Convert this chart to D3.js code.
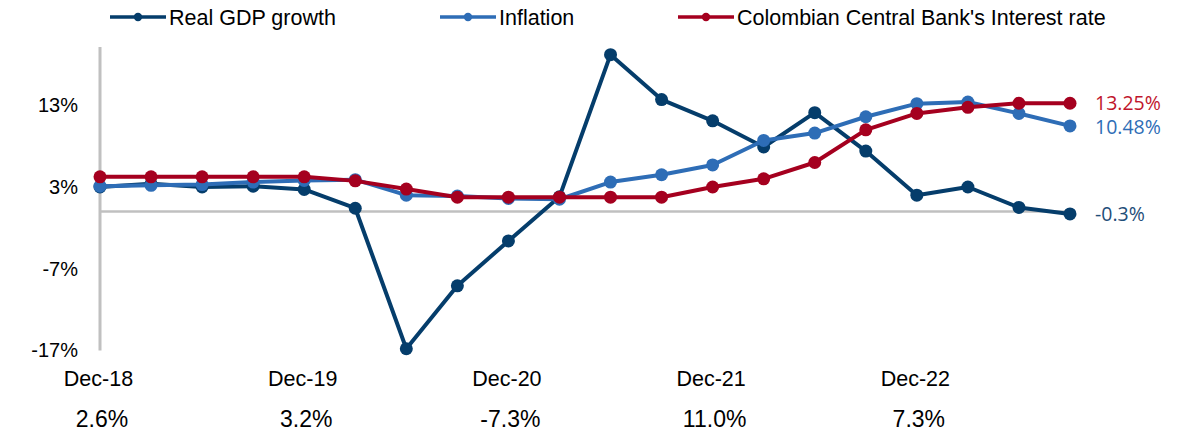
<!DOCTYPE html>
<html><head><meta charset="utf-8">
<script src="https://cdn.jsdelivr.net/npm/d3@7"></script>
<style>body{margin:0;background:#fff}svg{display:block}</style>
</head><body><svg id="c" width="1178" height="431"></svg>
<script>
const periods = ["Dec-18","Mar-19","Jun-19","Sep-19","Dec-19","Mar-20","Jun-20","Sep-20","Dec-20","Mar-21","Jun-21","Sep-21","Dec-21","Mar-22","Jun-22","Sep-22","Dec-22","Mar-23","Jun-23","Sep-23"];
const gdp = [3.0,3.4,3.0,3.1,2.7,0.4,-16.8,-9.1,-3.6,1.8,19.2,13.7,11.1,7.9,12.1,7.4,2.0,3.0,0.5,-0.3];
const inflation = [3.1,3.2,3.3,3.6,3.8,3.9,2.0,1.9,1.6,1.5,3.6,4.5,5.7,8.7,9.6,11.6,13.2,13.4,12.0,10.48];
const rate = [4.25,4.25,4.25,4.25,4.25,3.75,2.75,1.75,1.75,1.75,1.75,1.75,3.0,4.0,6.0,10.0,12.0,12.75,13.25,13.25];
const yTicks = [13,3,-7,-17];
const xTickLabels = ["Dec-18","Dec-19","Dec-20","Dec-21","Dec-22"];
const annualGdp = ["2.6%","3.2%","-7.3%","11.0%","7.3%"];
const seriesNames = ["Real GDP growth","Inflation","Colombian Central Bank's Interest rate"];
const endLabels = ["-0.3%","10.48%","13.25%"];
const colors = ["#053d6b","#2e6db6","#a5001f"];
const labelColors = ["#1f4e79","#2e6db6","#c0152c"];

const svg = d3.select("#c");
const x = d3.scalePoint().domain(periods).range([100,1070]);
const y = d3.scaleLinear().domain([-17,13]).range([350.4,105.3]);
const font = "'Liberation Sans', Arial, sans-serif";

// y axis line
svg.append("line").attr("x1",100).attr("x2",100).attr("y1",47).attr("y2",y(-17)).attr("stroke","#c0c0c0").attr("stroke-width",3);
// zero line
svg.append("line").attr("x1",100).attr("x2",1070).attr("y1",y(0)).attr("y2",y(0)).attr("stroke","#c0c0c0").attr("stroke-width",2.5);

// y ticks
svg.append("g").selectAll("text").data(yTicks).join("text")
  .attr("x",78).attr("y",d=>y(d)).attr("dy","0.35em").attr("text-anchor","end")
  .attr("font-family",font).attr("font-size",20).attr("fill","#000").text(d=>d+"%");

// x labels
svg.append("g").selectAll("text").data(xTickLabels).join("text")
  .attr("x",d=>x(d)-1.5).attr("y",385.5).attr("text-anchor","middle")
  .attr("font-family",font).attr("font-size",21.5).attr("fill","#000").text(d=>d);
svg.append("g").selectAll("text").data(annualGdp).join("text")
  .attr("x",(d,i)=>x(xTickLabels[i])+2).attr("y",426.5).attr("text-anchor","middle")
  .attr("font-family",font).attr("font-size",23).attr("fill","#000").text(d=>d);

const data = [gdp,inflation,rate];
const line = d3.line().x((d,i)=>x(periods[i])).y(d=>y(d));
data.forEach((s,k)=>{
  const g = svg.append("g");
  g.append("path").attr("d",line(s)).attr("fill","none").attr("stroke",colors[k]).attr("stroke-width",4).attr("stroke-linejoin","round");
  g.selectAll("circle").data(s).join("circle").attr("cx",(d,i)=>x(periods[i])).attr("cy",d=>y(d)).attr("r",6.5).attr("fill",colors[k]);
});

// end labels (small nudges keep the two upper labels apart)
const endNudge = [0.5,1.5,-0.5];
data.forEach((s,k)=>{
  svg.append("text").attr("x",1095).attr("y",y(s[s.length-1])+endNudge[k]).attr("dy","0.36em")
    .attr("font-family","'Open Sans', 'Noto Sans', sans-serif").attr("font-size",19.5).attr("fill",labelColors[k]).text(endLabels[k]);
});

// legend
const legX = [110,440,678];
seriesNames.forEach((n,k)=>{
  const g = svg.append("g").attr("transform",`translate(${legX[k]},17)`);
  g.append("line").attr("x1",0).attr("x2",56).attr("y1",0).attr("y2",0).attr("stroke",colors[k]).attr("stroke-width",3.5);
  g.append("circle").attr("cx",28).attr("cy",0).attr("r",4.2).attr("fill",colors[k]);
  g.append("text").attr("x",59).attr("y",0).attr("dy","0.36em").attr("font-family",font).attr("font-size",21.5).attr("fill","#000").text(n);
});
</script></body></html>
